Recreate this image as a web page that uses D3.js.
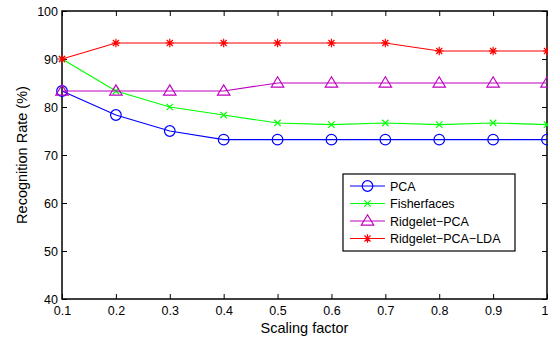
<!DOCTYPE html>
<html>
<head>
<meta charset="utf-8">
<script src="https://cdn.jsdelivr.net/npm/d3@7"></script>
<style>
  html, body { margin: 0; padding: 0; background: #fff; }
  svg { display: block; font-family: "Liberation Sans", Arial, sans-serif; }
</style>
</head>
<body>
<svg id="chart" width="548" height="341"></svg>
<script>
// Scaling factors on the x axis
const scales = [0.1, 0.2, 0.3, 0.4, 0.5, 0.6, 0.7, 0.8, 0.9, 1.0];
// Recognition rates (%) per method
const pca          = [83.33, 78.33, 75.0, 73.2, 73.2, 73.2, 73.2, 73.2, 73.2, 73.2];
const fisherfaces  = [90.0, 83.33, 80.0, 78.33, 76.67, 76.33, 76.67, 76.33, 76.67, 76.33];
const ridgeletPCA  = [83.33, 83.33, 83.33, 83.33, 85.0, 85.0, 85.0, 85.0, 85.0, 85.0];
const ridgeletLDA  = [90.0, 93.33, 93.33, 93.33, 93.33, 93.33, 93.33, 91.67, 91.67, 91.67];
const xTicks = [0.1, 0.2, 0.3, 0.4, 0.5, 0.6, 0.7, 0.8, 0.9, 1];
const yTicks = [40, 50, 60, 70, 80, 90, 100];

const series = [
  { name: "PCA", values: pca, color: "#0000ff", marker: "circle" },
  { name: "Fisherfaces", values: fisherfaces, color: "#00ff00", marker: "x" },
  { name: "Ridgelet\u2212PCA", values: ridgeletPCA, color: "#bf00bf", marker: "triangle" },
  { name: "Ridgelet\u2212PCA\u2212LDA", values: ridgeletLDA, color: "#ff0000", marker: "star" }
];

const svg = d3.select("#chart");
const L = 62, R = 547, T = 11, B = 299;

const x = d3.scaleLinear().domain([0.1, 1]).range([L, R]);
const y = d3.scaleLinear().domain([40, 100]).range([B, T]);

// Axes with inward ticks on all four sides
const fmtX = d => d === 1 ? "1" : d3.format(".1f")(d);
const xAxisG = svg.append("g").attr("transform", `translate(0,${B})`)
  .call(d3.axisBottom(x).tickValues(xTicks).tickSizeInner(-5).tickSizeOuter(0).tickPadding(7).tickFormat(fmtX));
// keep the last tick label inside the canvas edge
xAxisG.selectAll(".tick text").filter(d => d === 1).attr("text-anchor", "end").attr("x", 1);
svg.append("g").attr("transform", `translate(0,${T})`)
  .call(d3.axisTop(x).tickValues(xTicks).tickSizeInner(-5).tickSizeOuter(0).tickFormat(""));
svg.append("g").attr("transform", `translate(${L},0)`)
  .call(d3.axisLeft(y).tickValues(yTicks).tickSizeInner(-5).tickSizeOuter(0).tickPadding(4));
svg.append("g").attr("transform", `translate(${R},0)`)
  .call(d3.axisRight(y).tickValues(yTicks).tickSizeInner(-5).tickSizeOuter(0).tickFormat(""));

svg.selectAll(".domain").remove();
svg.selectAll(".tick line").attr("stroke", "#000").attr("stroke-width", 1);
svg.selectAll(".tick text").attr("font-size", 12.5).attr("fill", "#000")
  .attr("font-family", "Liberation Sans, Arial, sans-serif");

svg.append("rect").attr("x", L).attr("y", T).attr("width", R - L).attr("height", B - T)
  .attr("fill", "none").attr("stroke", "#000").attr("stroke-width", 1.5);

// Axis titles
svg.append("text").attr("x", (L + R) / 2).attr("y", 333).attr("text-anchor", "middle")
  .attr("font-size", 14.5).text("Scaling factor");
svg.append("text").attr("transform", `translate(27,${(T + B) / 2}) rotate(-90)`)
  .attr("text-anchor", "middle").attr("font-size", 14.5).text("Recognition Rate (%)");

function drawMarker(g, type, cx, cy, color) {
  if (type === "circle") {
    g.append("circle").attr("cx", cx).attr("cy", cy).attr("r", 5.3)
      .attr("fill", "none").attr("stroke", color).attr("stroke-width", 1.2);
  } else if (type === "x") {
    const s = 3.2;
    g.append("path").attr("d", `M${cx - s},${cy - s}L${cx + s},${cy + s}M${cx - s},${cy + s}L${cx + s},${cy - s}`)
      .attr("stroke", color).attr("stroke-width", 1.2);
  } else if (type === "triangle") {
    const s = 6.2;
    g.append("path").attr("d", `M${cx},${cy - s}L${cx + s},${cy + s * 0.65}L${cx - s},${cy + s * 0.65}Z`)
      .attr("fill", "none").attr("stroke", color).attr("stroke-width", 1.2);
  } else if (type === "star") {
    const s = 4.2, d = s * 0.72;
    g.append("path").attr("d",
      `M${cx},${cy - s}L${cx},${cy + s}M${cx - s},${cy}L${cx + s},${cy}` +
      `M${cx - d},${cy - d}L${cx + d},${cy + d}M${cx - d},${cy + d}L${cx + d},${cy - d}`)
      .attr("stroke", color).attr("stroke-width", 1.2);
  }
}

const line = d3.line().x((d, i) => x(scales[i])).y(d => y(d));
series.forEach(s => {
  const g = svg.append("g");
  g.append("path").datum(s.values).attr("d", line)
    .attr("fill", "none").attr("stroke", s.color).attr("stroke-width", 1.2);
  s.values.forEach((v, i) => drawMarker(g, s.marker, x(scales[i]), y(v), s.color));
});

// Legend
const lg = svg.append("g");
lg.append("rect").attr("x", 343).attr("y", 174).attr("width", 172).attr("height", 77)
  .attr("fill", "#fff").attr("stroke", "#000").attr("stroke-width", 1.2);
series.forEach((s, i) => {
  const yy = 186 + i * 17.5;
  lg.append("line").attr("x1", 350).attr("x2", 385).attr("y1", yy).attr("y2", yy)
    .attr("stroke", s.color).attr("stroke-width", 1.2);
  drawMarker(lg, s.marker, 367.5, yy, s.color);
  lg.append("text").attr("x", 390).attr("y", yy + 4.5).attr("font-size", 12.5).text(s.name);
});
</script>
</body>
</html>
